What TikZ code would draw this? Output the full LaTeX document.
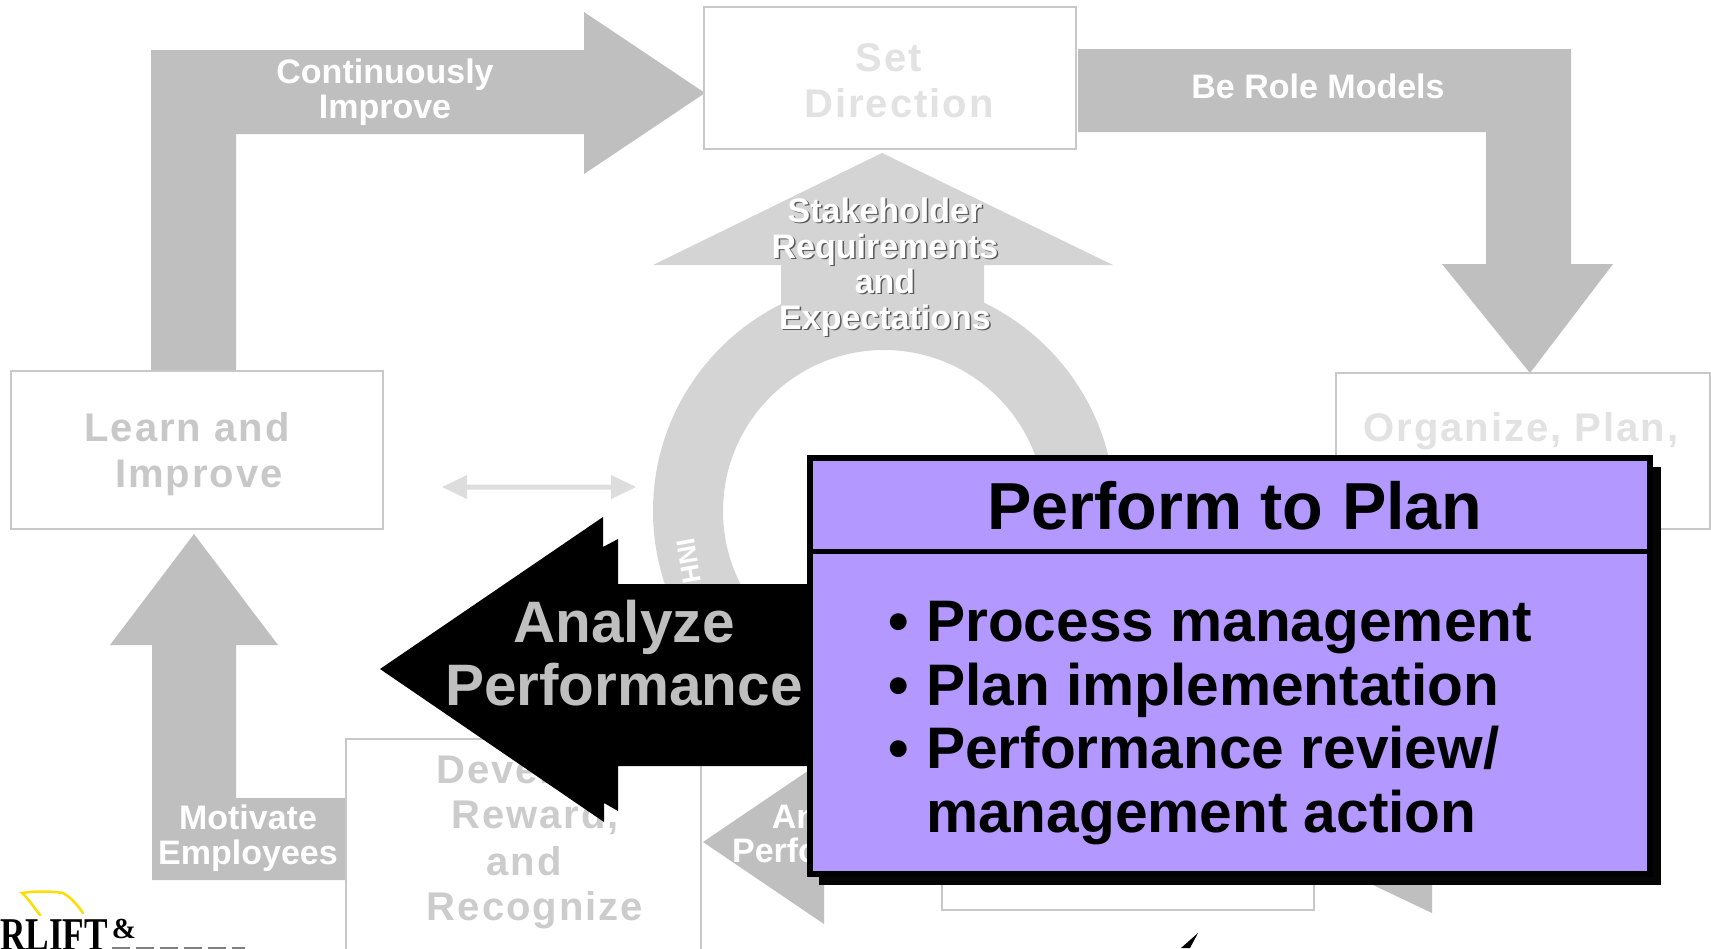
\documentclass[tikz,border=0pt]{standalone}
\usepackage{fontspec}
\setmainfont{Liberation Sans}
\newfontfamily\widefont[LetterSpace=5]{Liberation Sans}
\newfontfamily\logofont{Liberation Serif}
\newcommand{\fsz}[1]{\fontsize{#1}{#1}\selectfont\bfseries}
\definecolor{arrowgrey}{HTML}{BFBFBF}
\definecolor{ringgrey}{HTML}{D4D4D4}
\definecolor{boxline}{HTML}{C8C8C8}
\definecolor{planfill}{HTML}{B399FF}
\tikzset{
    txt/.style = {inner sep = 0, anchor = base},
    whitetxt/.style = {txt, text = white, font = \fsz{34}},
    boxtxt/.style = {txt, font = \widefont\fsz{40}},
    plantxt/.style = {txt, anchor = base west, text = black, font = \fsz{58.6}},
    stagebox/.style = {draw = boxline, fill = white, line width = 1.2pt}
}
\begin{document}
\begin{tikzpicture}[x = 1pt, y = -1pt]
            \path[use as bounding box, clip] (0, 0) rectangle (1711, 948);
            \fill[white] (0, 0) rectangle (1711, 948);
            \fill[arrowgrey] (151, 373) -- (151, 50) -- (584, 50) -- (584, 12) -- (705, 93) -- (584, 174) -- (584, 134) -- (236, 134) -- (236, 373) -- cycle;
            \fill[arrowgrey] (1078, 49) -- (1571, 49) -- (1571, 264) -- (1613, 264) -- (1530, 373) -- (1442, 264) -- (1486, 264) -- (1486, 132) -- (1078, 132) -- cycle;
            \fill[arrowgrey] (346, 798) -- (236, 798) -- (236, 645) -- (278, 645) -- (194, 534) -- (110, 645) -- (152, 645) -- (152, 880) -- (346, 880) -- cycle;
            \fill[arrowgrey] (703, 842) -- (824, 760) -- (824, 924) -- cycle;
            \fill[arrowgrey] (1373, 885) -- (1432, 885) -- (1432, 913) -- cycle;
            \fill[ringgrey, even odd rule] (884, 511) circle (231pt) (884, 511) circle (161pt);
            \fill[ringgrey] (882, 153) -- (1113, 265) -- (984, 265) -- (984, 320) -- (781, 320) -- (781, 265) -- (653, 265) -- cycle;
            \fill[ringgrey!80!white] (442, 487) -- (467, 475) -- (467, 484.5) -- (611, 484.5) -- (611, 475) -- (636, 487) -- (611, 499) -- (611, 489.5) -- (467, 489.5) -- (467, 499) -- cycle;
            \node[inner sep = 0, text = white, font = \fsz{26}, rotate = -80] (inh) at (689, 561) {INH};
            \node[stagebox, minimum width = 372pt, minimum height = 142pt] (setbox) at (890, 78) {};
            \node[stagebox, minimum width = 372pt, minimum height = 158pt] (learnbox) at (197, 450) {};
            \node[stagebox, minimum width = 374pt, minimum height = 156pt] (orgbox) at (1523, 451) {};
            \node[stagebox, minimum width = 355pt, minimum height = 220pt] (devbox) at (523.5, 849) {};
            \node[stagebox, minimum width = 372pt, minimum height = 120pt] (perfbox) at (1128, 850) {};
            \foreach \n/\t/\x/\y in {a/Continuously/385/83, b/Improve/385/118, c/Be Role Models/1318/98, d/Motivate/248/829, e/Employees/248/864, f/Analyze/836/828, g/Performance/836/862}
                {\node[whitetxt] (cap\n) at (\x, \y) {\t};};
            \foreach \n/\t/\y in {a/Stakeholder/222, b/Requirements/258, c/and/293, d/Expectations/329}
                {\node[whitetxt, text = black!65] at (886.5, \y + 1.5) {\t}; \node[whitetxt] (req\n) at (885, \y) {\t};};
            \foreach \n/\t/\x/\y/\c in {a/Set/889/71/E2E2E2, b/Direction/899/117/E2E2E2, c/Learn and/187/441/C8C8C8, d/Improve/199/487/C8C8C8, e/{Organize, Plan,}/1521/441/E2E2E2, f/Develop/520/783/CCCCCC, g/{Reward,}/535/828/CCCCCC, h/and/524/875/CCCCCC, i/Recognize/535/920/CCCCCC}
                {\definecolor{tc}{HTML}{\c}; \node[boxtxt, text = tc] (stage\n) at (\x, \y) {\t};};
            \fill[black] (380, 669) -- (603, 517) -- (603, 547) -- (618, 539) -- (618, 584) -- (830, 584) -- (830, 766) -- (618, 766) -- (618, 811) -- (604, 803) -- (604, 822) -- cycle;
            \node[txt, text = arrowgrey, font = \fsz{58.5}] (analyze) at (624, 642) {Analyze};
            \node[txt, text = arrowgrey, font = \fsz{58.5}] (performance) at (624, 705) {Performance};
            \fill[black!98] (819, 467) rectangle (1661, 885);
            \fill[black] (807, 455) rectangle (1653, 877);
            \fill[planfill] (813, 461) rectangle (1647, 549);
            \fill[planfill] (813, 554) rectangle (1647, 871);
            \node[txt, text = black, font = \fsz{66.5}] (plantitle) at (1235, 529) {Perform to Plan};
            \foreach \n/\t/\y in {a/Process management/641, b/Plan implementation/705, c/{Performance review/}/768}
                {\node[plantxt] (bul\n) at (888, \y) {\textbullet}; \node[plantxt] (item\n) at (926, \y) {\t};};
            \node[plantxt] (itemd) at (926, 832) {management action};
            \draw[yellow!80!orange, line width = 2.5pt, line cap = round] (40, 915) .. controls (32, 905) and (28, 898) .. (22, 893) .. controls (35, 891) and (50, 891) .. (63, 893) .. controls (72, 898) and (78, 906) .. (83, 913);
            \node[txt, anchor = base east, font = \logofont\fsz{47}, xscale = 0.75, text = black] (logoa) at (108, 950) {RLIFT};
            \node[txt, font = \logofont\fsz{29}, text = black] (logob) at (124, 938) {\&};
            \draw[black!50, line width = 2pt, dash pattern = on 18pt off 6pt] (112, 948) -- (245, 948);
            \fill[black] (1198, 933) -- (1190, 948) -- (1181, 948) -- cycle;
        \end{tikzpicture}
\end{document}
